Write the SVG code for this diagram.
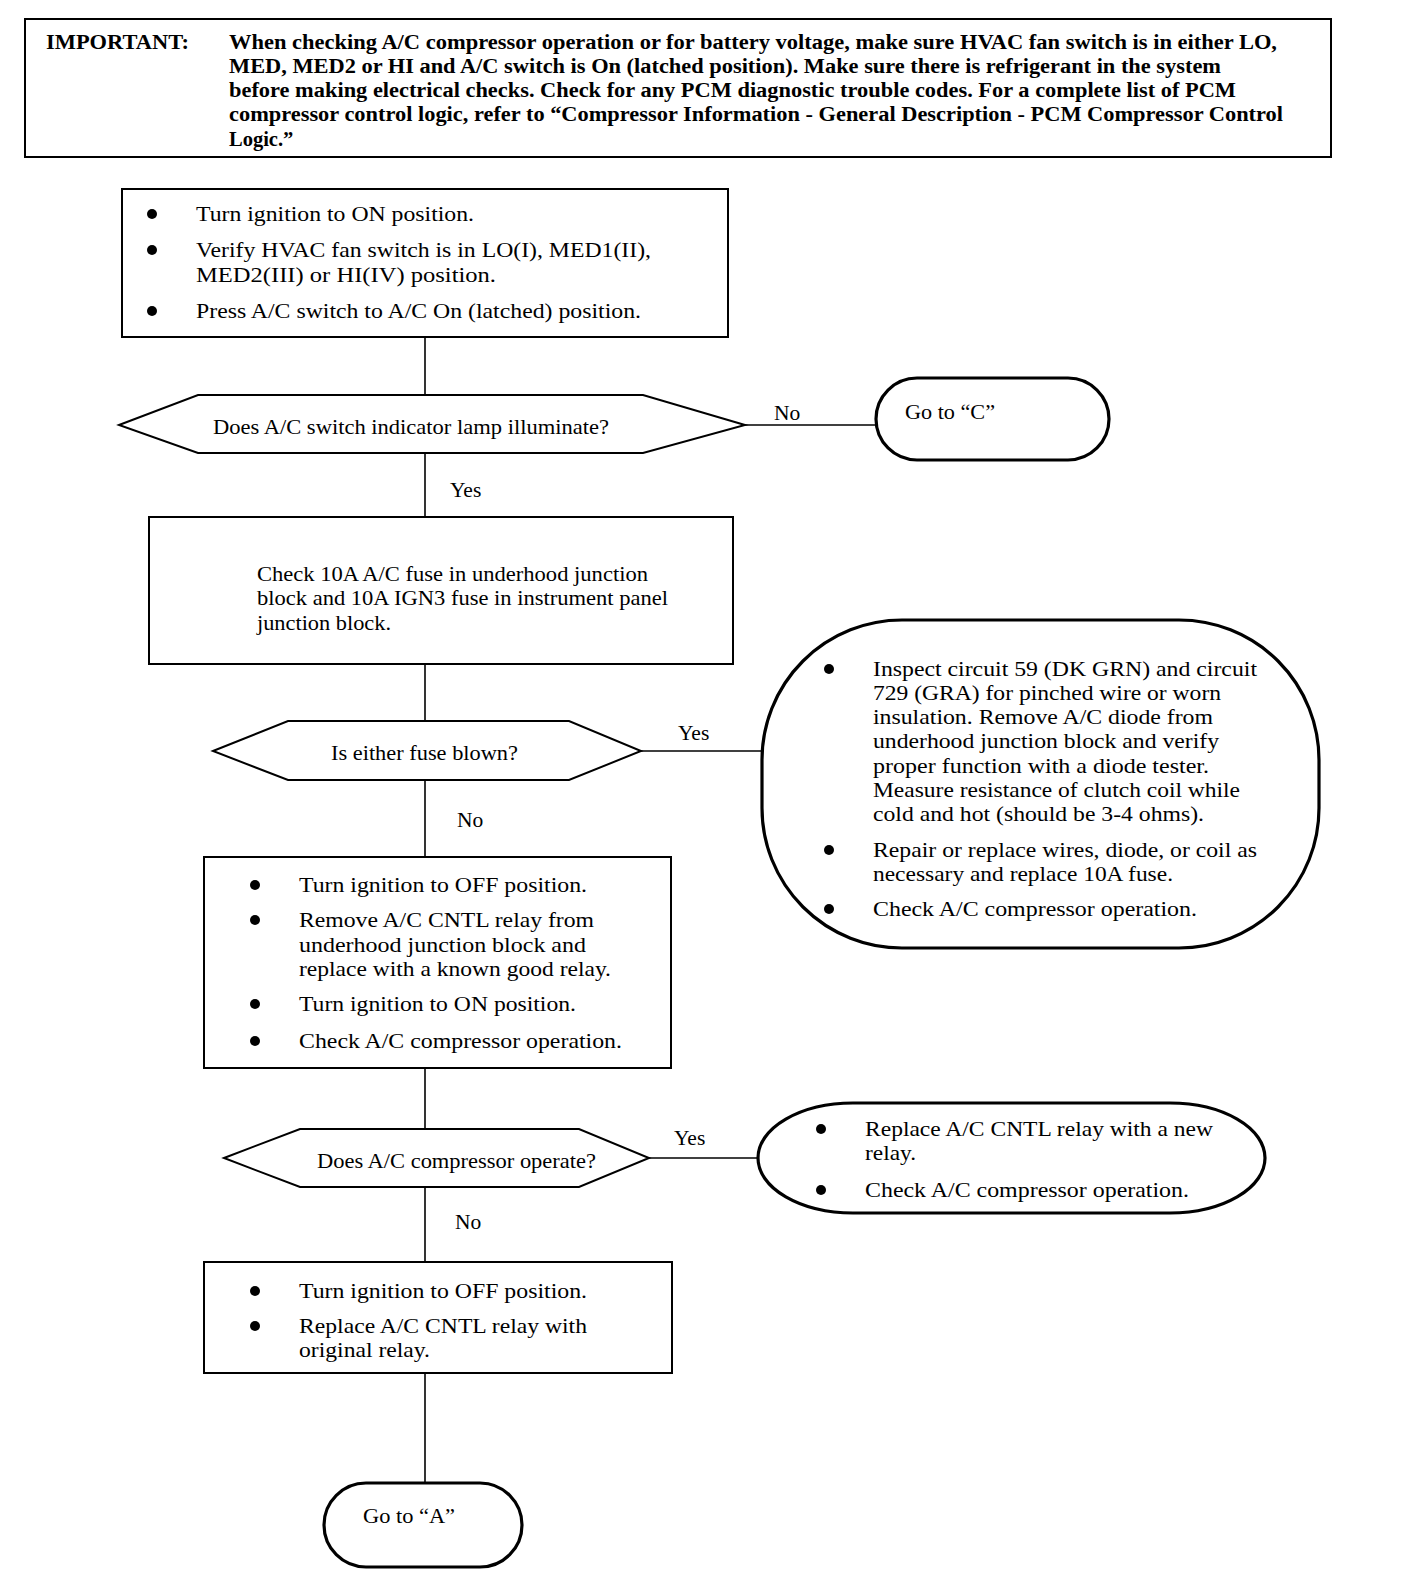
<svg xmlns="http://www.w3.org/2000/svg" width="1408" height="1586" viewBox="0 0 1408 1586">
<style>
.box{fill:#fff;stroke:#000;stroke-width:2}
.pill{fill:#fff;stroke:#000;stroke-width:3.2}
.dec{fill:#fff;stroke:#000;stroke-width:2}
.ln{fill:none;stroke:#000;stroke-width:1.6}
text{font-family:"Liberation Serif","Times New Roman",serif;font-size:21.5px;fill:#000}
.b{font-weight:bold;font-size:20.5px}
.c{text-anchor:middle}
.dot{fill:#000}
</style>
<rect width="1408" height="1586" fill="#fff"/>
<g id="connectors">
<line class="ln" x1="425" y1="337" x2="425" y2="395"/>
<line class="ln" x1="745" y1="425" x2="876" y2="425"/>
<line class="ln" x1="425" y1="453" x2="425" y2="517"/>
<line class="ln" x1="425" y1="664" x2="425" y2="721"/>
<line class="ln" x1="641" y1="751" x2="762" y2="751"/>
<line class="ln" x1="425" y1="780" x2="425" y2="857"/>
<line class="ln" x1="425" y1="1068" x2="425" y2="1129"/>
<line class="ln" x1="649" y1="1158" x2="758" y2="1158"/>
<line class="ln" x1="425" y1="1187" x2="425" y2="1262"/>
<line class="ln" x1="425" y1="1373" x2="425" y2="1483"/>
<text x="774" y="420">No</text>
<text x="450" y="497">Yes</text>
<text x="678" y="740">Yes</text>
<text x="457" y="827">No</text>
<text x="674" y="1145">Yes</text>
<text x="455" y="1229">No</text>
</g>
<g id="important">
<rect class="box" x="25" y="19" width="1306" height="138"/>
<text class="b" x="46" y="49" textLength="143" lengthAdjust="spacingAndGlyphs">IMPORTANT:</text>
<text class="b" x="229" y="49" textLength="1048" lengthAdjust="spacingAndGlyphs">When checking A/C compressor operation or for battery voltage, make sure HVAC fan switch is in either LO,</text>
<text class="b" x="229" y="73" textLength="992" lengthAdjust="spacingAndGlyphs">MED, MED2 or HI and A/C switch is On (latched position). Make sure there is refrigerant in the system</text>
<text class="b" x="229" y="97" textLength="1007" lengthAdjust="spacingAndGlyphs">before making electrical checks. Check for any PCM diagnostic trouble codes. For a complete list of PCM</text>
<text class="b" x="229" y="121" textLength="1054" lengthAdjust="spacingAndGlyphs">compressor control logic, refer to “Compressor Information - General Description - PCM Compressor Control</text>
<text class="b" x="229" y="146">Logic.”</text>
</g>
<g id="step1">
<rect class="box" x="122" y="189" width="606" height="148"/>
<circle class="dot" cx="152" cy="214" r="5"/>
<circle class="dot" cx="152" cy="250" r="5"/>
<circle class="dot" cx="152" cy="311" r="5"/>
<text x="196" y="221" textLength="278" lengthAdjust="spacingAndGlyphs">Turn ignition to ON position.</text>
<text x="196" y="257" textLength="455" lengthAdjust="spacingAndGlyphs">Verify HVAC fan switch is in LO(I), MED1(II),</text>
<text x="196" y="282" textLength="300" lengthAdjust="spacingAndGlyphs">MED2(III) or HI(IV) position.</text>
<text x="196" y="318" textLength="445" lengthAdjust="spacingAndGlyphs">Press A/C switch to A/C On (latched) position.</text>
</g>
<g id="q1">
<polygon class="dec" points="119,425 198,395 643,395 745,425 643,453 198,453"/>
<text x="213" y="434" textLength="396" lengthAdjust="spacingAndGlyphs">Does A/C switch indicator lamp illuminate?</text>
</g>
<g id="gotoC">
<rect class="pill" x="876" y="378" width="233" height="82" rx="41" ry="41"/>
<text x="905" y="419" textLength="90" lengthAdjust="spacingAndGlyphs">Go to “C”</text>
</g>
<g id="step2">
<rect class="box" x="149" y="517" width="584" height="147"/>
<text x="257" y="581" textLength="391" lengthAdjust="spacingAndGlyphs">Check 10A A/C fuse in underhood junction</text>
<text x="257" y="605" textLength="411" lengthAdjust="spacingAndGlyphs">block and 10A IGN3 fuse in instrument panel</text>
<text x="257" y="630" textLength="134" lengthAdjust="spacingAndGlyphs">junction block.</text>
</g>
<g id="q2">
<polygon class="dec" points="213,751 288,721 569,721 641,751 569,780 288,780"/>
<text x="331" y="760" textLength="187" lengthAdjust="spacingAndGlyphs">Is either fuse blown?</text>
</g>
<g id="repair">
<rect class="pill" x="762" y="620" width="557" height="328" rx="140" ry="140"/>
<circle class="dot" cx="829" cy="669" r="5"/>
<circle class="dot" cx="829" cy="850" r="5"/>
<circle class="dot" cx="829" cy="909" r="5"/>
<text x="873" y="676" textLength="384" lengthAdjust="spacingAndGlyphs">Inspect circuit 59 (DK GRN) and circuit</text>
<text x="873" y="700" textLength="348" lengthAdjust="spacingAndGlyphs">729 (GRA) for pinched wire or worn</text>
<text x="873" y="724" textLength="340" lengthAdjust="spacingAndGlyphs">insulation. Remove A/C diode from</text>
<text x="873" y="748" textLength="346" lengthAdjust="spacingAndGlyphs">underhood junction block and verify</text>
<text x="873" y="773" textLength="336" lengthAdjust="spacingAndGlyphs">proper function with a diode tester.</text>
<text x="873" y="797" textLength="367" lengthAdjust="spacingAndGlyphs">Measure resistance of clutch coil while</text>
<text x="873" y="821" textLength="331" lengthAdjust="spacingAndGlyphs">cold and hot (should be 3-4 ohms).</text>
<text x="873" y="857" textLength="384" lengthAdjust="spacingAndGlyphs">Repair or replace wires, diode, or coil as</text>
<text x="873" y="881" textLength="300" lengthAdjust="spacingAndGlyphs">necessary and replace 10A fuse.</text>
<text x="873" y="916" textLength="324" lengthAdjust="spacingAndGlyphs">Check A/C compressor operation.</text>
</g>
<g id="step3">
<rect class="box" x="204" y="857" width="467" height="211"/>
<circle class="dot" cx="255" cy="885" r="5"/>
<circle class="dot" cx="255" cy="920" r="5"/>
<circle class="dot" cx="255" cy="1004" r="5"/>
<circle class="dot" cx="255" cy="1041" r="5"/>
<text x="299" y="892" textLength="288" lengthAdjust="spacingAndGlyphs">Turn ignition to OFF position.</text>
<text x="299" y="927" textLength="295" lengthAdjust="spacingAndGlyphs">Remove A/C CNTL relay from</text>
<text x="299" y="952" textLength="287" lengthAdjust="spacingAndGlyphs">underhood junction block and</text>
<text x="299" y="976" textLength="312" lengthAdjust="spacingAndGlyphs">replace with a known good relay.</text>
<text x="299" y="1011" textLength="277" lengthAdjust="spacingAndGlyphs">Turn ignition to ON position.</text>
<text x="299" y="1048" textLength="323" lengthAdjust="spacingAndGlyphs">Check A/C compressor operation.</text>
</g>
<g id="q3">
<polygon class="dec" points="224,1158 300,1129 579,1129 649,1158 579,1187 300,1187"/>
<text x="317" y="1168" textLength="279" lengthAdjust="spacingAndGlyphs">Does A/C compressor operate?</text>
</g>
<g id="replace">
<rect class="pill" x="758" y="1103" width="507" height="110" rx="95" ry="55"/>
<circle class="dot" cx="821" cy="1129" r="5"/>
<circle class="dot" cx="821" cy="1190" r="5"/>
<text x="865" y="1136" textLength="348" lengthAdjust="spacingAndGlyphs">Replace A/C CNTL relay with a new</text>
<text x="865" y="1160" textLength="51" lengthAdjust="spacingAndGlyphs">relay.</text>
<text x="865" y="1197" textLength="324" lengthAdjust="spacingAndGlyphs">Check A/C compressor operation.</text>
</g>
<g id="step4">
<rect class="box" x="204" y="1262" width="468" height="111"/>
<circle class="dot" cx="255" cy="1291" r="5"/>
<circle class="dot" cx="255" cy="1326" r="5"/>
<text x="299" y="1298" textLength="288" lengthAdjust="spacingAndGlyphs">Turn ignition to OFF position.</text>
<text x="299" y="1333" textLength="288" lengthAdjust="spacingAndGlyphs">Replace A/C CNTL relay with</text>
<text x="299" y="1357" textLength="131" lengthAdjust="spacingAndGlyphs">original relay.</text>
</g>
<g id="gotoA">
<rect class="pill" x="324" y="1483" width="198" height="84" rx="42" ry="42"/>
<text x="363" y="1523" textLength="92" lengthAdjust="spacingAndGlyphs">Go to “A”</text>
</g>
</svg>
